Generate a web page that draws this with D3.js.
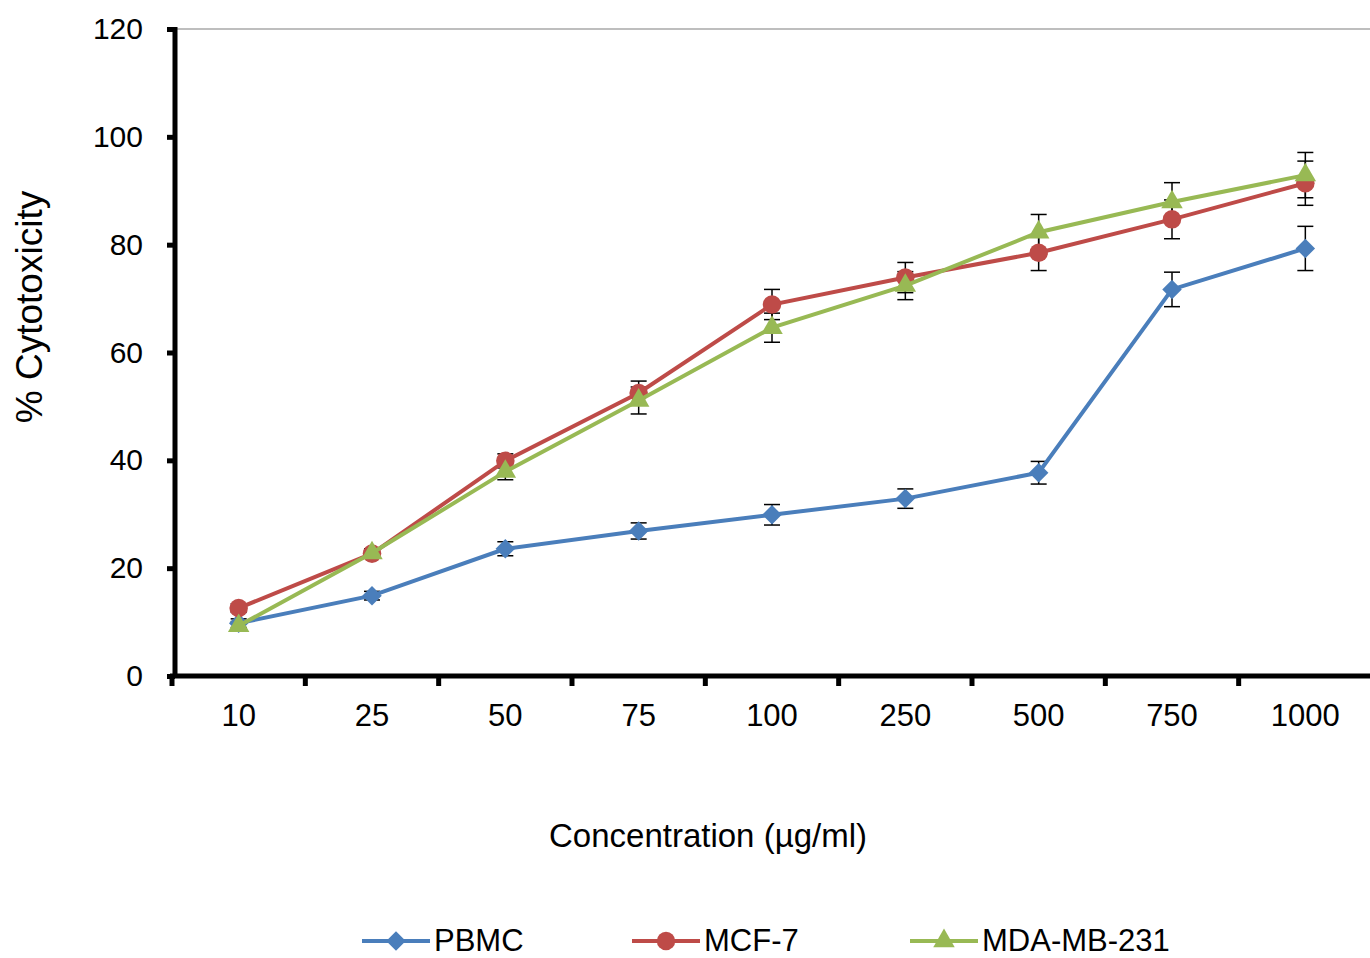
<!DOCTYPE html>
<html>
<head>
<meta charset="utf-8">
<script src="https://cdn.jsdelivr.net/npm/d3@7"></script>
<style>
  body { margin: 0; background: #fff; }
  text { font-family: "Liberation Sans", Arial, sans-serif; fill: #000; }
</style>
</head>
<body>
<svg id="chart" width="1370" height="958"></svg>
<script>
// concentrations (x categories)
let concentrations = ['10', '25', '50', '75', '100', '250', '500', '750', '1000']
let yTicks = [0, 20, 40, 60, 80, 100, 120]

// % cytotoxicity per cell line, with error (SD)
let pbmc = [9.8, 14.9, 23.6, 26.9, 29.9, 32.9, 37.7, 71.7, 79.3]
let pbmcErr = [0.8, 0.8, 1.3, 1.5, 1.9, 1.8, 2.1, 3.2, 4.1]
let mcf7 = [12.6, 22.7, 39.9, 52.5, 68.9, 73.9, 78.5, 84.7, 91.4]
let mcf7Err = [0.8, 0.8, 1.3, 2.2, 2.8, 2.8, 3.3, 3.6, 4.1]
let mda = [9.3, 22.8, 37.9, 51.1, 64.6, 72.4, 82.3, 87.9, 92.9]
let mdaErr = [0.8, 0.8, 1.5, 2.5, 2.7, 2.6, 3.3, 3.6, 4.2]

let series = [
  { name: 'PBMC', values: pbmc, err: pbmcErr, color: '#4a7ebb', symbol: d3.symbolSquare, size: 190, rot: 45 },
  { name: 'MCF-7', values: mcf7, err: mcf7Err, color: '#be4b48', symbol: d3.symbolCircle, size: 270, rot: 0 },
  { name: 'MDA-MB-231', values: mda, err: mdaErr, color: '#98b954', symbol: d3.symbolTriangle, size: 200, rot: 0 }
]

let svg = d3.select('#chart')
let plotLeft = 175, plotRight = 1372, plotTop = 29, plotBottom = 676

let x = d3.scaleBand().domain(concentrations).range([plotLeft - 3, plotRight])
let y = d3.scaleLinear().domain([0, 120]).range([plotBottom, plotTop])

// top border of the plot area
svg.append('line')
  .attr('x1', plotLeft).attr('x2', 1370)
  .attr('y1', y(120)).attr('y2', y(120))
  .attr('stroke', '#7f7f7f').attr('stroke-width', 1.2)

// y axis
let yAxis = svg.append('g')
  .attr('transform', 'translate(' + plotLeft + ',0)')
  .call(d3.axisLeft(y).tickValues(yTicks).tickSize(8).tickPadding(24))
yAxis.select('.domain').attr('stroke-width', 5).attr('d', 'M0,' + (plotTop - 2) + 'V' + (plotBottom + 2))
yAxis.selectAll('.tick line').attr('stroke-width', 5)
yAxis.selectAll('.tick text').attr('font-size', 30).style('font-family', '"Liberation Sans", Arial, sans-serif')

// x axis with ticks between categories
let xAxis = svg.append('g')
  .attr('transform', 'translate(0,' + plotBottom + ')')
xAxis.append('line')
  .attr('x1', plotLeft - 5).attr('x2', 1370)
  .attr('stroke', '#000').attr('stroke-width', 5)
xAxis.selectAll('.sep')
  .data(concentrations)
  .enter()
  .append('line')
  .attr('x1', d => x(d)).attr('x2', d => x(d))
  .attr('y1', 0).attr('y2', 10)
  .attr('stroke', '#000').attr('stroke-width', 5)
xAxis.selectAll('.lbl')
  .data(concentrations)
  .enter()
  .append('text')
  .attr('x', d => x(d) + x.bandwidth() / 2)
  .attr('y', 50)
  .attr('text-anchor', 'middle')
  .attr('font-size', 31)
  .text(d => d)

// axis titles
svg.append('text')
  .attr('transform', 'translate(42,307) rotate(-90)')
  .attr('text-anchor', 'middle')
  .attr('font-size', 37)
  .text('% Cytotoxicity')
svg.append('text')
  .attr('x', 708).attr('y', 847)
  .attr('text-anchor', 'middle')
  .attr('font-size', 33)
  .text('Concentration (µg/ml)')

let cx = d => x(d) + x.bandwidth() / 2

let line = d3.line()
  .x((d, i) => cx(concentrations[i]))
  .y(d => y(d))

// error bars
series.forEach(s => {
  let g = svg.append('g')
  s.values.forEach((v, i) => {
    let px = cx(concentrations[i])
    let y1 = y(v + s.err[i]), y2 = y(v - s.err[i])
    g.append('line').attr('x1', px).attr('x2', px).attr('y1', y1).attr('y2', y2)
      .attr('stroke', '#000').attr('stroke-width', 1.5)
    g.append('line').attr('x1', px - 8).attr('x2', px + 8).attr('y1', y1).attr('y2', y1)
      .attr('stroke', '#000').attr('stroke-width', 1.5)
    g.append('line').attr('x1', px - 8).attr('x2', px + 8).attr('y1', y2).attr('y2', y2)
      .attr('stroke', '#000').attr('stroke-width', 1.5)
  })
})

// lines and markers
series.forEach(s => {
  svg.append('path')
    .datum(s.values)
    .attr('d', line)
    .attr('fill', 'none')
    .attr('stroke', s.color)
    .attr('stroke-width', 4)
  svg.selectAll(null)
    .data(s.values)
    .enter()
    .append('path')
    .attr('d', d3.symbol().type(s.symbol).size(s.size))
    .attr('transform', (d, i) => 'translate(' + cx(concentrations[i]) + ',' + y(d) + ') rotate(' + s.rot + ')')
    .attr('fill', s.color)
})

// legend
let legendX = [362, 632, 910]
series.forEach((s, i) => {
  let g = svg.append('g').attr('transform', 'translate(' + legendX[i] + ',941)')
  g.append('line').attr('x1', 0).attr('x2', 68)
    .attr('stroke', s.color).attr('stroke-width', 4)
  g.append('path')
    .attr('d', d3.symbol().type(s.symbol).size(s.size))
    .attr('transform', 'translate(34,0) rotate(' + s.rot + ')')
    .attr('fill', s.color)
  g.append('text')
    .attr('x', 72).attr('y', 10)
    .attr('font-size', 31)
    .text(s.name)
})
</script>
</body>
</html>
